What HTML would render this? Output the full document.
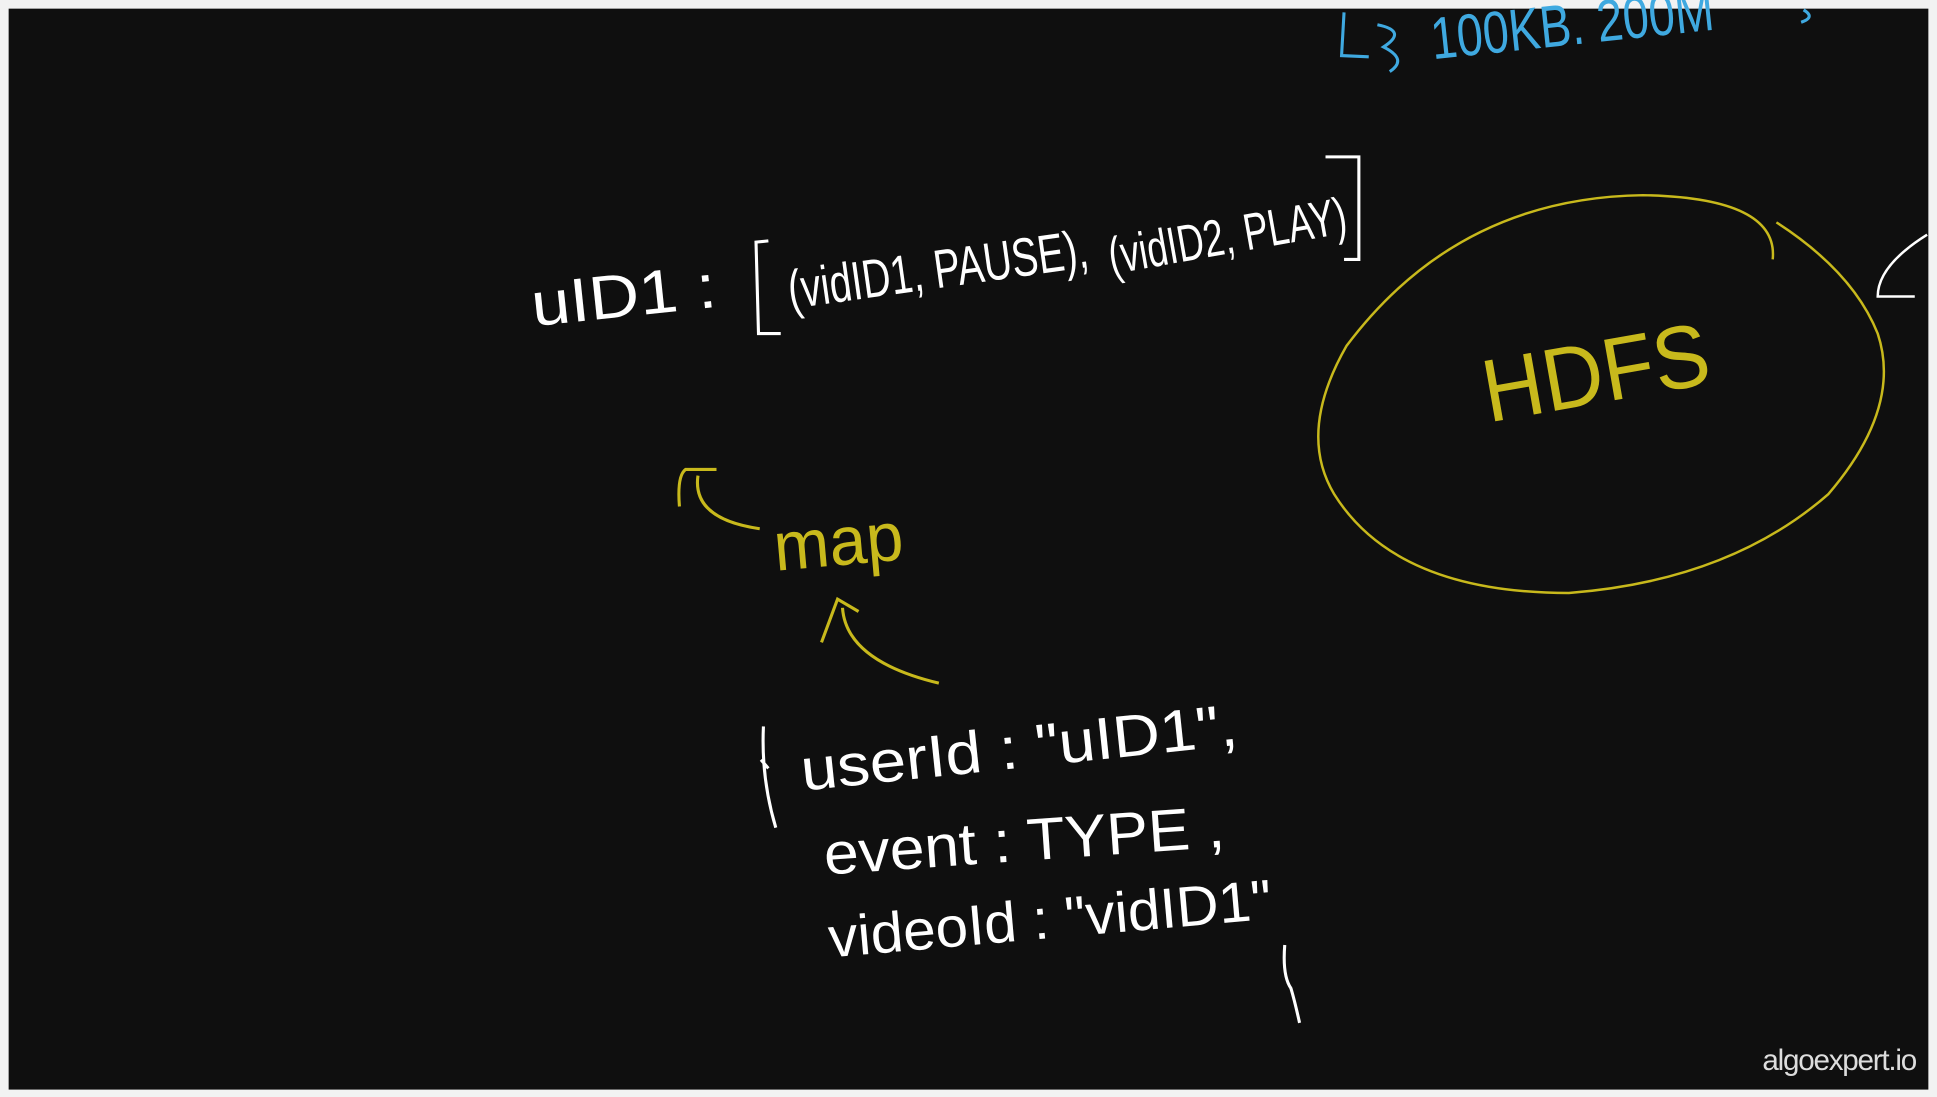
<!DOCTYPE html>
<html><head><meta charset="utf-8"><style>
html,body{margin:0;padding:0;background:#fff;}
svg{display:block;}
</style></head><body>
<svg width="1937" height="1097" viewBox="0 0 1568 888" preserveAspectRatio="none" xmlns="http://www.w3.org/2000/svg">
<rect x="0" y="0" width="1568" height="888" fill="#f2f2f2"/>
<rect x="7" y="7" width="1554" height="875" fill="#0f0f0f"/>
<g font-family="Liberation Sans, sans-serif" fill="none">
<path d="M1088 10 L1086 45 L1108 46 M1115 20 Q1140 25 1120 38 Q1140 48 1125 58" stroke="#3fa9e0" stroke-width="2.5"/>
<text x="1160" y="48" font-size="48" fill="#3fa9e0" transform="rotate(-6 1160 48)" textLength="230" lengthAdjust="spacingAndGlyphs">100KB. 200M</text>
<path d="M1460 8 Q1470 14 1458 18" stroke="#3fa9e0" stroke-width="2.5"/>
<text x="432" y="264" font-size="50" fill="#fff" transform="rotate(-6 432 264)" textLength="150" lengthAdjust="spacingAndGlyphs">uID1 :</text>
<path d="M622 195 L612 196 L614 270 L632 270" stroke="#fff" stroke-width="2.5"/>
<text x="640" y="250" font-size="44" fill="#fff" transform="rotate(-8 640 250)" textLength="245" lengthAdjust="spacingAndGlyphs">(vidID1, PAUSE),</text>
<text x="900" y="222" font-size="42" fill="#fff" transform="rotate(-10 900 222)" textLength="195" lengthAdjust="spacingAndGlyphs">(vidID2, PLAY)</text>
<path d="M1073 127 L1100 127 L1100 210 L1088 210" stroke="#fff" stroke-width="2.5"/>
<path d="M1435 210 Q1440 160 1330 158 Q1180 160 1090 280 Q1050 350 1080 400 Q1130 480 1270 480 Q1400 470 1480 400 Q1540 330 1520 270 Q1500 220 1438 180" stroke="#c8b91c" stroke-width="2"/>
<text x="1205" y="342" font-size="72" fill="#c8b91c" transform="rotate(-10 1205 342)" textLength="185" lengthAdjust="spacingAndGlyphs">HDFS</text>
<path d="M1560 190 Q1520 215 1520 240 L1550 240" stroke="#fff" stroke-width="2"/>
<path d="M550 410 Q548 385 555 380 L580 380 M565 385 Q560 420 615 428" stroke="#c8b91c" stroke-width="2.5"/>
<text x="628" y="462" font-size="56" fill="#c8b91c" transform="rotate(-5 628 462)" textLength="105" lengthAdjust="spacingAndGlyphs">map</text>
<path d="M665 520 L678 485 L695 495 M682 492 Q685 535 760 553" stroke="#c8b91c" stroke-width="2.5"/>
<path d="M618 588 Q616 630 628 670 M616 615 L622 622" stroke="#fff" stroke-width="2.5"/>
<text x="650" y="640" font-size="48" fill="#fff" transform="rotate(-6 650 640)" textLength="355" lengthAdjust="spacingAndGlyphs">userId : "uID1",</text>
<text x="668" y="708" font-size="48" fill="#fff" transform="rotate(-4 668 708)" textLength="325" lengthAdjust="spacingAndGlyphs">event :   TYPE ,</text>
<text x="672" y="775" font-size="46" fill="#fff" transform="rotate(-5 672 775)" textLength="360" lengthAdjust="spacingAndGlyphs">videoId : "vidID1"</text>
<path d="M1040 765 Q1038 790 1045 800 Q1048 810 1052 828" stroke="#fff" stroke-width="2.5"/>
</g>
<text x="1551" y="866" font-family="Liberation Sans, sans-serif" font-size="24" fill="#ddd" text-anchor="end" letter-spacing="-1">algoexpert.io</text>
</svg>
</body></html>
